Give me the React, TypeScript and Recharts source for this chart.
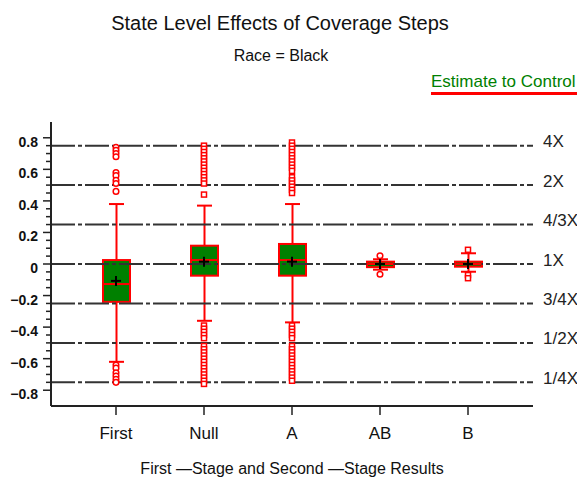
import React from 'react';
import { ComposedChart, Bar, Scatter, XAxis, YAxis, ReferenceLine } from 'recharts';

const FONT = "'Liberation Sans Narrow', 'Arial Narrow', 'Liberation Sans', Arial, sans-serif";
const GREEN = '#008000';
const RED = '#ff0000';

// box statistics per group
const categories = ['First', 'Null', 'A', 'AB', 'B'];
const q1 = [-0.24, -0.074, -0.074, -0.02, -0.017];
const q3 = [0.025, 0.116, 0.127, 0.015, 0.015];
const median = [-0.127, 0.025, 0.025, 0.0, 0.0];
const mean = [-0.107, 0.015, 0.015, 0.0, 0.0];
const whiskerLow = [-0.62, -0.36, -0.37, -0.036, -0.049];
const whiskerHigh = [0.38, 0.37, 0.38, 0.03, 0.068];

// outliers
const firstOutliers = [0.74, 0.72, 0.7, 0.68, 0.58, 0.56, 0.53, 0.51, 0.46, -0.64, -0.66, -0.69, -0.71, -0.73, -0.75];
const nullOutliers = [0.75, 0.73, 0.71, 0.69, 0.67, 0.65, 0.63, 0.61, 0.59, 0.57, 0.55, 0.53, 0.51, 0.44,
  -0.39, -0.41, -0.43, -0.45, -0.47, -0.52, -0.54, -0.56, -0.58, -0.6, -0.62, -0.64, -0.66, -0.68, -0.7, -0.72, -0.74, -0.76];
const aOutliers = [0.77, 0.75, 0.73, 0.71, 0.69, 0.67, 0.65, 0.63, 0.61, 0.59, 0.55, 0.53, 0.51, 0.49, 0.47, 0.45,
  -0.39, -0.41, -0.43, -0.45, -0.47, -0.52, -0.54, -0.56, -0.58, -0.6, -0.62, -0.64, -0.66, -0.68, -0.7, -0.72, -0.74];
const abOutliers = [0.052, -0.065];
const bOutliers = [0.09, -0.07, -0.09];
const outlierMarks = ['circle', 'square', 'square', 'circle', 'square'];

// reference lines and their ratio labels
const refValues = [0.75, 0.5, 0.25, 0, -0.25, -0.5, -0.75];
const refLabels = ['4X', '2X', '4/3X', '1X', '3/4X', '1/2X', '1/4X'];

const yTicks = [-0.8, -0.75, -0.7, -0.65, -0.6, -0.55, -0.5, -0.45, -0.4, -0.35, -0.3, -0.25, -0.2, -0.15, -0.1, -0.05, 0,
  0.05, 0.1, 0.15, 0.2, 0.25, 0.3, 0.35, 0.4, 0.45, 0.5, 0.55, 0.6, 0.65, 0.7, 0.75, 0.8];

const boxData = categories.map((name, i) => ({
  name,
  box: [q1[i], q3[i]],
  whisker: [whiskerLow[i], whiskerHigh[i]],
  median: median[i],
  mean: mean[i],
}));

const outlierData = [firstOutliers, nullOutliers, aOutliers, abOutliers, bOutliers].flatMap((vals, i) =>
  vals.map(v => ({ name: categories[i], v, mark: outlierMarks[i] }))
);

const WhiskerShape = (p: any) => {
  const { x, y, width, height } = p;
  const cx = x + width / 2;
  const top = Math.min(y, y + height);
  const bot = Math.max(y, y + height);
  return (
    <g stroke={RED} strokeWidth={2}>
      <line x1={cx} x2={cx} y1={top} y2={bot} />
      <line x1={x} x2={x + width} y1={top} y2={top} />
      <line x1={x} x2={x + width} y1={bot} y2={bot} />
    </g>
  );
};

const BoxShape = (p: any) => {
  const { x, y, width, height } = p;
  const top = Math.min(y, y + height);
  return <rect x={x} y={top} width={width} height={Math.max(Math.abs(height), 3)} fill={GREEN} stroke={RED} strokeWidth={2} />;
};

const MedianShape = (p: any) => (
  <line x1={p.cx - 13.5} x2={p.cx + 13.5} y1={p.cy} y2={p.cy} stroke={RED} strokeWidth={2} />
);

const MeanShape = (p: any) => (
  <g stroke="#000" strokeWidth={2}>
    <line x1={p.cx - 5} x2={p.cx + 5} y1={p.cy} y2={p.cy} />
    <line x1={p.cx} x2={p.cx} y1={p.cy - 5} y2={p.cy + 5} />
  </g>
);

const OutlierShape = (p: any) =>
  p.payload.mark === 'square' ? (
    <rect x={p.cx - 2.5} y={p.cy - 2.5} width={5} height={5} fill="#fff" stroke={RED} strokeWidth={1.5} />
  ) : (
    <circle cx={p.cx} cy={p.cy} r={2.8} fill="#fff" stroke={RED} strokeWidth={1.5} />
  );

const YTick = (p: any) => {
  const { x, y, payload } = p;
  const v = payload.value;
  const major = Math.abs(v * 5 - Math.round(v * 5)) < 1e-6;
  const label = v === 0 ? '0' : (v < 0 ? '\u2212' : '') + Math.abs(v).toFixed(1);
  return (
    <g>
      <line x1={x - (major ? 8 : 5)} x2={x} y1={y} y2={y} stroke="#222" strokeWidth={1.5} />
      {major && (
        <text x={x - 13} y={y + 4} textAnchor="end" dominantBaseline="central" fontSize={14} fontWeight="bold"
          fontFamily="'Liberation Sans', Arial, sans-serif" fill="#111">
          {label}
        </text>
      )}
    </g>
  );
};

const RefLabel = (text: string) => (p: any) => {
  const vb = p.viewBox;
  return (
    <text x={vb.x + vb.width + 10} y={vb.y - 4} dominantBaseline="central" fontSize={17} fontFamily={FONT} fill="#222">
      {text}
    </text>
  );
};

export default function App() {
  return (
    <div style={{ position: 'absolute', left: 0, top: 0, width: 577, height: 480, background: '#fff' }}>
      <div style={{ position: 'absolute', left: 0, width: 560, top: 12, textAlign: 'center', fontFamily: FONT, fontSize: 20, color: '#111' }}>
        State Level Effects of Coverage Steps
      </div>
      <div style={{ position: 'absolute', left: 0, width: 562, top: 47, textAlign: 'center', fontFamily: FONT, fontSize: 16, color: '#111' }}>
        Race = Black
      </div>
      <div style={{ position: 'absolute', left: 431, top: 72, width: 146, fontFamily: FONT, fontSize: 17, color: GREEN, lineHeight: '20px', borderBottom: `3px solid ${RED}`, whiteSpace: 'nowrap' }}>
        Estimate to Control
      </div>
      <ComposedChart width={577} height={480} data={boxData} margin={{ top: 122, right: 44, bottom: 0, left: 0 }}>
        {refValues.map((v, i) => (
          <ReferenceLine key={v} y={v} stroke="#333" strokeWidth={2} strokeDasharray="24 3 4 3" label={RefLabel(refLabels[i])} />
        ))}
        <XAxis dataKey="name" type="category" allowDuplicatedCategory={false} padding={{ left: 21, right: 21 }} height={74}
          axisLine={{ stroke: '#222', strokeWidth: 2 }} tickLine={{ stroke: '#222', strokeWidth: 1.5 }} tickSize={9} tickMargin={12}
          tick={{ fontSize: 17, fontFamily: FONT, fill: '#111' }} interval={0}
          label={{ value: 'First \u2014Stage and Second \u2014Stage Results', position: 'insideBottom', offset: 6, fontSize: 16, fontFamily: FONT, fill: '#111' }} />
        <XAxis xAxisId="w" dataKey="name" type="category" allowDuplicatedCategory={false} padding={{ left: 21, right: 21 }} hide />
        <YAxis type="number" domain={[-0.9, 0.9]} allowDataOverflow ticks={yTicks} interval={0} width={51}
          axisLine={{ stroke: '#222', strokeWidth: 2 }} tickLine={false} tickSize={0} tickMargin={0} tick={<YTick />} />
        <Bar xAxisId="w" dataKey="whisker" barSize={15} shape={<WhiskerShape />} isAnimationActive={false} />
        <Bar dataKey="box" barSize={27} shape={<BoxShape />} isAnimationActive={false} />
        <Scatter data={boxData} dataKey="median" shape={<MedianShape />} isAnimationActive={false} />
        <Scatter data={boxData} dataKey="mean" shape={<MeanShape />} isAnimationActive={false} />
        <Scatter data={outlierData} dataKey="v" shape={<OutlierShape />} isAnimationActive={false} />
      </ComposedChart>
    </div>
  );
}
